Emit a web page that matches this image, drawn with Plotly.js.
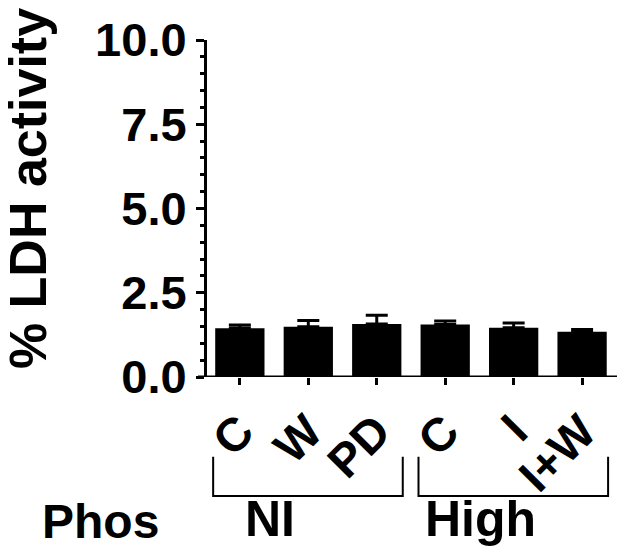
<!DOCTYPE html>
<html>
<head>
<meta charset="utf-8">
<script src="https://cdn.plot.ly/plotly-3.0.1.min.js"></script>
<style>html,body{margin:0;padding:0;background:#fff;}</style>
</head>
<body>
<div id="chart" style="width:626px;height:558px;"></div>
<script>
const categories = ["C", "W", "PD", "C ", "I", "I+W"];
const values = [1.45, 1.49, 1.57, 1.56, 1.46, 1.34];
const errors = [0.09, 0.19, 0.26, 0.10, 0.14, 0.07];
const yTickVals = [0, 2.5, 5, 7.5, 10];
const yTickText = ["0.0", "2.5", "5.0", "7.5", "10.0"];
const groups = [
  {label: "NI", from: 0, to: 2, labelAt: 0.44},
  {label: "High", from: 3, to: 5, labelAt: 3.51}
];
const rowLabel = "Phos";
const yTitle = "% LDH activity";

const FONT = "Liberation Sans, Arial, sans-serif";

const trace = {
  type: "bar",
  x: categories.map((c, i) => i),
  y: values,
  marker: {color: "#000", line: {width: 0}},
  width: 0.72,
  error_y: {type: "data", array: errors, arrayminus: errors.map(() => 0), symmetric: false,
            color: "#000", thickness: 3, width: 11},
  hoverinfo: "none"
};

const shapes = [];
const annotations = [];
groups.forEach(g => {
  const x0 = g.from - 0.39, x1 = g.to + 0.38;
  shapes.push({type: "path", xref: "x", yref: "paper",
    path: `M ${x0} -0.237 L ${x0} -0.353 L ${x1} -0.353 L ${x1} -0.237`,
    line: {color: "#000", width: 2}});
  annotations.push({xref: "x", yref: "paper", x: g.labelAt, y: -0.42,
    text: "<b>" + g.label + "</b>", showarrow: false, xanchor: "center", yanchor: "middle",
    font: {family: FONT, size: 50, color: "#000"}});
});
annotations.push({xref: "paper", yref: "paper", x: -0.26, y: -0.43, text: "<b>" + rowLabel + "</b>",
  showarrow: false, xanchor: "center", yanchor: "middle",
  font: {family: FONT, size: 48, color: "#000"}});
annotations.push({xref: "paper", yref: "paper", x: -0.437, y: 0.56, text: "<b>" + yTitle + "</b>",
  textangle: -90, showarrow: false, xanchor: "center", yanchor: "middle",
  font: {family: FONT, size: 52, color: "#000"}});
// x axis line extending slightly left of the y axis
shapes.push({type: "line", xref: "paper", yref: "y", x0: -0.022, x1: 1, y0: 0, y1: 0,
  line: {color: "#000", width: 3}});

const layout = {
  width: 626, height: 558,
  margin: {l: 207, r: 9, t: 40, b: 181, pad: 0},
  paper_bgcolor: "#fff", plot_bgcolor: "#fff",
  showlegend: false,
  font: {family: FONT, color: "#000"},
  xaxis: {
    range: [-0.48, 5.51], tickmode: "array", tickvals: categories.map((c, i) => i),
    ticktext: categories.map(c => "<b>" + c.trim() + "</b>"),
    tickangle: -45, ticks: "outside", ticklen: 7, tickwidth: 3, tickcolor: "#000",
    showline: false, zeroline: false, showgrid: false,
    tickfont: {family: FONT, size: 47, color: "#000"}
  },
  yaxis: {
    range: [0, 10], tickmode: "array", tickvals: yTickVals,
    ticktext: yTickText.map(t => "<b>" + t + "</b>"),
    ticks: "outside", ticklen: 8, tickwidth: 3, tickcolor: "#000",
    minor: {dtick: 0.5, tick0: 0, ticks: "outside", ticklen: 4, tickwidth: 3, tickcolor: "#000", showgrid: false},
    showline: true, linewidth: 3, linecolor: "#000", zeroline: false, showgrid: false,
    tickfont: {family: FONT, size: 47, color: "#000"}
  },
  shapes: shapes,
  annotations: annotations
};

Plotly.newPlot("chart", [trace], layout, {displayModeBar: false, staticPlot: true});
</script>
</body>
</html>
